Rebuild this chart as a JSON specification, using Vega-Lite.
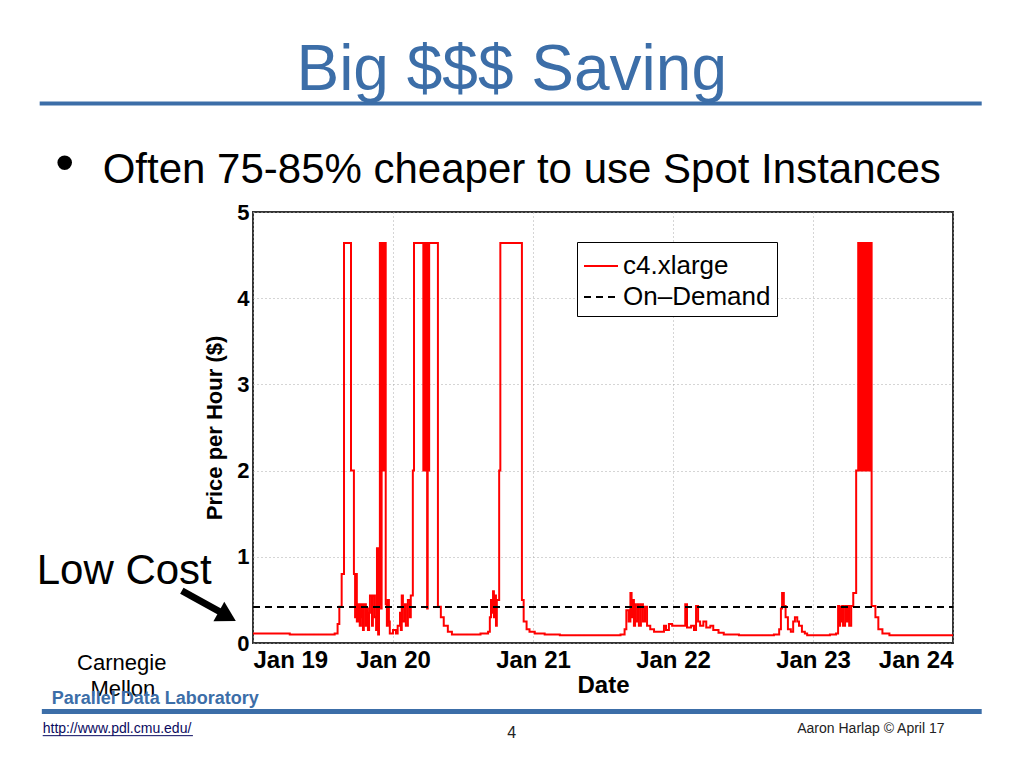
{
  "$schema": "https://vega.github.io/schema/vega-lite/v6.json",
  "width": 700,
  "height": 431,
  "autosize": {"type": "none"},
  "padding": {"left": 253, "top": 212, "right": 71, "bottom": 125},
  "background": "white",
  "config": {
    "font": "Liberation Sans",
    "view": {"stroke": "#333333", "strokeWidth": 2},
    "axis": {"gridDash": [1, 3], "gridColor": "#aaaaaa", "gridWidth": 1, "ticks": false, "domain": false, "labelColor": "black", "titleColor": "black", "labelFont": "Liberation Sans", "titleFont": "Liberation Sans"}
  },
  "datasets": {
    "price": [
      {"hour": 0, "price": 0.11, "series": "c4.xlarge"},
      {"hour": 3, "price": 0.11, "series": "c4.xlarge"},
      {"hour": 6.3, "price": 0.1, "series": "c4.xlarge"},
      {"hour": 11.5, "price": 0.1, "series": "c4.xlarge"},
      {"hour": 14.0, "price": 0.11, "series": "c4.xlarge"},
      {"hour": 14.5, "price": 0.22, "series": "c4.xlarge"},
      {"hour": 14.8, "price": 0.42, "series": "c4.xlarge"},
      {"hour": 15.2, "price": 0.8, "series": "c4.xlarge"},
      {"hour": 15.6, "price": 4.64, "series": "c4.xlarge"},
      {"hour": 16.8, "price": 2.0, "series": "c4.xlarge"},
      {"hour": 17.3, "price": 0.8, "series": "c4.xlarge"},
      {"hour": 17.5, "price": 0.3, "series": "c4.xlarge"},
      {"hour": 17.65, "price": 0.8, "series": "c4.xlarge"},
      {"hour": 17.8, "price": 0.25, "series": "c4.xlarge"},
      {"hour": 18.0, "price": 0.45, "series": "c4.xlarge"},
      {"hour": 18.3, "price": 0.2, "series": "c4.xlarge"},
      {"hour": 18.5, "price": 0.45, "series": "c4.xlarge"},
      {"hour": 18.7, "price": 0.3, "series": "c4.xlarge"},
      {"hour": 18.85, "price": 0.15, "series": "c4.xlarge"},
      {"hour": 19.0, "price": 0.45, "series": "c4.xlarge"},
      {"hour": 19.35, "price": 0.2, "series": "c4.xlarge"},
      {"hour": 19.55, "price": 0.4, "series": "c4.xlarge"},
      {"hour": 19.7, "price": 0.15, "series": "c4.xlarge"},
      {"hour": 19.9, "price": 0.35, "series": "c4.xlarge"},
      {"hour": 20.05, "price": 0.55, "series": "c4.xlarge"},
      {"hour": 20.4, "price": 0.2, "series": "c4.xlarge"},
      {"hour": 20.55, "price": 0.55, "series": "c4.xlarge"},
      {"hour": 20.9, "price": 0.3, "series": "c4.xlarge"},
      {"hour": 21.1, "price": 0.15, "series": "c4.xlarge"},
      {"hour": 21.25, "price": 1.1, "series": "c4.xlarge"},
      {"hour": 21.45, "price": 0.1, "series": "c4.xlarge"},
      {"hour": 21.6, "price": 0.45, "series": "c4.xlarge"},
      {"hour": 21.75, "price": 4.64, "series": "c4.xlarge"},
      {"hour": 21.95, "price": 0.4, "series": "c4.xlarge"},
      {"hour": 22.05, "price": 4.64, "series": "c4.xlarge"},
      {"hour": 22.2, "price": 2.0, "series": "c4.xlarge"},
      {"hour": 22.3, "price": 4.64, "series": "c4.xlarge"},
      {"hour": 22.45, "price": 2.0, "series": "c4.xlarge"},
      {"hour": 22.55, "price": 4.64, "series": "c4.xlarge"},
      {"hour": 22.75, "price": 0.45, "series": "c4.xlarge"},
      {"hour": 22.95, "price": 0.2, "series": "c4.xlarge"},
      {"hour": 23.1, "price": 0.5, "series": "c4.xlarge"},
      {"hour": 23.3, "price": 0.25, "series": "c4.xlarge"},
      {"hour": 23.45, "price": 0.11, "series": "c4.xlarge"},
      {"hour": 24.0, "price": 0.15, "series": "c4.xlarge"},
      {"hour": 24.5, "price": 0.11, "series": "c4.xlarge"},
      {"hour": 24.8, "price": 0.2, "series": "c4.xlarge"},
      {"hour": 25.2, "price": 0.35, "series": "c4.xlarge"},
      {"hour": 25.35, "price": 0.15, "series": "c4.xlarge"},
      {"hour": 25.5, "price": 0.55, "series": "c4.xlarge"},
      {"hour": 25.7, "price": 0.25, "series": "c4.xlarge"},
      {"hour": 26.05, "price": 0.45, "series": "c4.xlarge"},
      {"hour": 26.2, "price": 0.2, "series": "c4.xlarge"},
      {"hour": 26.55, "price": 0.5, "series": "c4.xlarge"},
      {"hour": 26.9, "price": 0.3, "series": "c4.xlarge"},
      {"hour": 27.05, "price": 0.55, "series": "c4.xlarge"},
      {"hour": 27.4, "price": 2.0, "series": "c4.xlarge"},
      {"hour": 27.6, "price": 4.64, "series": "c4.xlarge"},
      {"hour": 29.2, "price": 2.0, "series": "c4.xlarge"},
      {"hour": 29.3, "price": 4.64, "series": "c4.xlarge"},
      {"hour": 29.45, "price": 2.0, "series": "c4.xlarge"},
      {"hour": 29.55, "price": 4.64, "series": "c4.xlarge"},
      {"hour": 29.7, "price": 2.0, "series": "c4.xlarge"},
      {"hour": 29.85, "price": 0.4, "series": "c4.xlarge"},
      {"hour": 29.95, "price": 4.64, "series": "c4.xlarge"},
      {"hour": 30.1, "price": 2.0, "series": "c4.xlarge"},
      {"hour": 30.2, "price": 4.64, "series": "c4.xlarge"},
      {"hour": 31.7, "price": 0.42, "series": "c4.xlarge"},
      {"hour": 32.2, "price": 0.3, "series": "c4.xlarge"},
      {"hour": 32.7, "price": 0.2, "series": "c4.xlarge"},
      {"hour": 33.4, "price": 0.13, "series": "c4.xlarge"},
      {"hour": 34.1, "price": 0.1, "series": "c4.xlarge"},
      {"hour": 37.2, "price": 0.1, "series": "c4.xlarge"},
      {"hour": 39.0, "price": 0.11, "series": "c4.xlarge"},
      {"hour": 40.3, "price": 0.13, "series": "c4.xlarge"},
      {"hour": 40.6, "price": 0.3, "series": "c4.xlarge"},
      {"hour": 40.8, "price": 0.5, "series": "c4.xlarge"},
      {"hour": 40.95, "price": 0.35, "series": "c4.xlarge"},
      {"hour": 41.15, "price": 0.6, "series": "c4.xlarge"},
      {"hour": 41.3, "price": 0.3, "series": "c4.xlarge"},
      {"hour": 41.5, "price": 0.55, "series": "c4.xlarge"},
      {"hour": 41.65, "price": 0.2, "series": "c4.xlarge"},
      {"hour": 41.8, "price": 0.5, "series": "c4.xlarge"},
      {"hour": 42.2, "price": 2.0, "series": "c4.xlarge"},
      {"hour": 42.4, "price": 4.64, "series": "c4.xlarge"},
      {"hour": 46.1, "price": 0.5, "series": "c4.xlarge"},
      {"hour": 46.4, "price": 0.25, "series": "c4.xlarge"},
      {"hour": 46.9, "price": 0.16, "series": "c4.xlarge"},
      {"hour": 47.4, "price": 0.13, "series": "c4.xlarge"},
      {"hour": 48.3, "price": 0.11, "series": "c4.xlarge"},
      {"hour": 50.0, "price": 0.1, "series": "c4.xlarge"},
      {"hour": 52.6, "price": 0.09, "series": "c4.xlarge"},
      {"hour": 56.0, "price": 0.09, "series": "c4.xlarge"},
      {"hour": 59.5, "price": 0.09, "series": "c4.xlarge"},
      {"hour": 63.0, "price": 0.1, "series": "c4.xlarge"},
      {"hour": 63.7, "price": 0.16, "series": "c4.xlarge"},
      {"hour": 64.0, "price": 0.38, "series": "c4.xlarge"},
      {"hour": 64.4, "price": 0.25, "series": "c4.xlarge"},
      {"hour": 64.7, "price": 0.58, "series": "c4.xlarge"},
      {"hour": 64.9, "price": 0.3, "series": "c4.xlarge"},
      {"hour": 65.1, "price": 0.5, "series": "c4.xlarge"},
      {"hour": 65.3, "price": 0.2, "series": "c4.xlarge"},
      {"hour": 65.5, "price": 0.45, "series": "c4.xlarge"},
      {"hour": 65.65, "price": 0.25, "series": "c4.xlarge"},
      {"hour": 66.0, "price": 0.45, "series": "c4.xlarge"},
      {"hour": 66.15, "price": 0.2, "series": "c4.xlarge"},
      {"hour": 66.5, "price": 0.45, "series": "c4.xlarge"},
      {"hour": 66.85, "price": 0.25, "series": "c4.xlarge"},
      {"hour": 67.2, "price": 0.42, "series": "c4.xlarge"},
      {"hour": 67.55, "price": 0.2, "series": "c4.xlarge"},
      {"hour": 68.1, "price": 0.16, "series": "c4.xlarge"},
      {"hour": 68.75, "price": 0.13, "series": "c4.xlarge"},
      {"hour": 69.8, "price": 0.13, "series": "c4.xlarge"},
      {"hour": 70.45, "price": 0.2, "series": "c4.xlarge"},
      {"hour": 70.8, "price": 0.15, "series": "c4.xlarge"},
      {"hour": 71.3, "price": 0.22, "series": "c4.xlarge"},
      {"hour": 71.85, "price": 0.2, "series": "c4.xlarge"},
      {"hour": 74.0, "price": 0.2, "series": "c4.xlarge"},
      {"hour": 74.1, "price": 0.45, "series": "c4.xlarge"},
      {"hour": 74.4, "price": 0.18, "series": "c4.xlarge"},
      {"hour": 75.1, "price": 0.2, "series": "c4.xlarge"},
      {"hour": 75.6, "price": 0.15, "series": "c4.xlarge"},
      {"hour": 75.95, "price": 0.43, "series": "c4.xlarge"},
      {"hour": 76.3, "price": 0.25, "series": "c4.xlarge"},
      {"hour": 76.65, "price": 0.2, "series": "c4.xlarge"},
      {"hour": 77.2, "price": 0.25, "series": "c4.xlarge"},
      {"hour": 77.7, "price": 0.18, "series": "c4.xlarge"},
      {"hour": 78.4, "price": 0.2, "series": "c4.xlarge"},
      {"hour": 78.9, "price": 0.15, "series": "c4.xlarge"},
      {"hour": 79.8, "price": 0.12, "series": "c4.xlarge"},
      {"hour": 80.7, "price": 0.1, "series": "c4.xlarge"},
      {"hour": 83.3, "price": 0.09, "series": "c4.xlarge"},
      {"hour": 86.7, "price": 0.09, "series": "c4.xlarge"},
      {"hour": 89.3, "price": 0.1, "series": "c4.xlarge"},
      {"hour": 90.2, "price": 0.16, "series": "c4.xlarge"},
      {"hour": 90.5, "price": 0.4, "series": "c4.xlarge"},
      {"hour": 90.7, "price": 0.58, "series": "c4.xlarge"},
      {"hour": 91.0, "price": 0.43, "series": "c4.xlarge"},
      {"hour": 91.3, "price": 0.3, "series": "c4.xlarge"},
      {"hour": 91.7, "price": 0.16, "series": "c4.xlarge"},
      {"hour": 92.2, "price": 0.13, "series": "c4.xlarge"},
      {"hour": 92.6, "price": 0.25, "series": "c4.xlarge"},
      {"hour": 92.9, "price": 0.3, "series": "c4.xlarge"},
      {"hour": 93.3, "price": 0.25, "series": "c4.xlarge"},
      {"hour": 93.6, "price": 0.2, "series": "c4.xlarge"},
      {"hour": 94.1, "price": 0.13, "series": "c4.xlarge"},
      {"hour": 94.6, "price": 0.11, "series": "c4.xlarge"},
      {"hour": 95.0, "price": 0.09, "series": "c4.xlarge"},
      {"hour": 98.9, "price": 0.1, "series": "c4.xlarge"},
      {"hour": 99.95, "price": 0.11, "series": "c4.xlarge"},
      {"hour": 100.3, "price": 0.43, "series": "c4.xlarge"},
      {"hour": 100.5, "price": 0.2, "series": "c4.xlarge"},
      {"hour": 100.65, "price": 0.42, "series": "c4.xlarge"},
      {"hour": 100.8, "price": 0.25, "series": "c4.xlarge"},
      {"hour": 101.0, "price": 0.43, "series": "c4.xlarge"},
      {"hour": 101.15, "price": 0.2, "series": "c4.xlarge"},
      {"hour": 101.5, "price": 0.43, "series": "c4.xlarge"},
      {"hour": 101.7, "price": 0.25, "series": "c4.xlarge"},
      {"hour": 102.0, "price": 0.43, "series": "c4.xlarge"},
      {"hour": 102.2, "price": 0.2, "series": "c4.xlarge"},
      {"hour": 102.55, "price": 0.43, "series": "c4.xlarge"},
      {"hour": 102.9, "price": 0.58, "series": "c4.xlarge"},
      {"hour": 103.4, "price": 2.0, "series": "c4.xlarge"},
      {"hour": 103.75, "price": 4.64, "series": "c4.xlarge"},
      {"hour": 103.9, "price": 2.0, "series": "c4.xlarge"},
      {"hour": 104.0, "price": 4.64, "series": "c4.xlarge"},
      {"hour": 104.15, "price": 2.0, "series": "c4.xlarge"},
      {"hour": 104.3, "price": 4.64, "series": "c4.xlarge"},
      {"hour": 104.6, "price": 2.0, "series": "c4.xlarge"},
      {"hour": 104.9, "price": 4.64, "series": "c4.xlarge"},
      {"hour": 105.05, "price": 2.0, "series": "c4.xlarge"},
      {"hour": 105.15, "price": 4.64, "series": "c4.xlarge"},
      {"hour": 105.3, "price": 2.0, "series": "c4.xlarge"},
      {"hour": 105.4, "price": 4.64, "series": "c4.xlarge"},
      {"hour": 105.55, "price": 2.0, "series": "c4.xlarge"},
      {"hour": 105.65, "price": 4.64, "series": "c4.xlarge"},
      {"hour": 105.8, "price": 2.0, "series": "c4.xlarge"},
      {"hour": 105.9, "price": 4.64, "series": "c4.xlarge"},
      {"hour": 106.05, "price": 0.43, "series": "c4.xlarge"},
      {"hour": 106.7, "price": 0.3, "series": "c4.xlarge"},
      {"hour": 107.2, "price": 0.16, "series": "c4.xlarge"},
      {"hour": 107.9, "price": 0.11, "series": "c4.xlarge"},
      {"hour": 109.1, "price": 0.09, "series": "c4.xlarge"},
      {"hour": 120, "price": 0.09, "series": "c4.xlarge"},
      {"hour": 0, "price": 0.419, "series": "On–Demand"},
      {"hour": 120, "price": 0.419, "series": "On–Demand"}
    ],
    "texts": [
      {"id": "title", "hour": 44.35, "price": 6.41, "label": "Big $$$ Saving"},
      {"id": "bullet", "hour": -33.9, "price": 5.36, "label": "•"},
      {"id": "point", "hour": -25.77, "price": 5.34, "label": "Often 75-85% cheaper to use Spot Instances"},
      {"id": "low", "hour": -37.08, "price": 0.69, "label": "Low Cost"},
      {"id": "cmu1", "hour": -22.5, "price": -0.31, "label": "Carnegie"},
      {"id": "cmu2", "hour": -22.3, "price": -0.62, "label": "Mellon"},
      {"id": "pdl", "hour": -34.5, "price": -0.705, "label": "Parallel Data Laboratory"},
      {"id": "url", "hour": -36.05, "price": -1.04, "label": "http://www.pdl.cmu.edu/"},
      {"id": "page", "hour": 44.35, "price": -1.1, "label": "4"},
      {"id": "author", "hour": 93.3, "price": -1.04, "label": "Aaron Harlap © April 17"}
    ],
    "lines": [
      {"id": "top", "hour": -36.57, "hour2": 124.92, "price": 6.26, "price2": 6.26, "w": 4},
      {"id": "bottom", "hour": -36.2, "hour2": 124.92, "price": -0.796, "price2": -0.796, "w": 5}
    ]
  },
  "layer": [
    {
      "data": {"name": "price"},
      "transform": [{"filter": "datum.series === 'c4.xlarge'"}],
      "mark": {"type": "line", "interpolate": "step-after", "strokeWidth": 2},
      "encoding": {
        "x": {"field": "hour", "type": "quantitative", "scale": {"domain": [0, 120], "nice": false, "zero": false},
          "axis": {"values": [0, 24, 48, 72, 96, 120], "labelExpr": "'Jan ' + (19 + round(datum.value / 24))", "labelFontSize": 24, "labelFontWeight": "bold", "labelPadding": 5, "title": "Date", "titleFontSize": 24, "titleFontWeight": "bold", "titlePadding": 1, "grid": true}},
        "y": {"field": "price", "type": "quantitative", "scale": {"domain": [0, 5], "nice": false, "zero": false},
          "axis": {"values": [0, 1, 2, 3, 4, 5], "format": "d", "labelFontSize": 22, "labelFontWeight": "bold", "labelPadding": 4, "title": "Price per Hour ($)", "titleFontSize": 22, "titleFontWeight": "bold", "titlePadding": 10, "grid": true}},
        "color": {"field": "series", "type": "nominal", "scale": {"domain": ["c4.xlarge", "On–Demand"], "range": ["#ff0000", "#000000"]},
          "legend": {"title": null, "orient": "none", "legendX": 324, "legendY": 30, "symbolType": "stroke", "symbolSize": 1156, "symbolStrokeWidth": 2, "labelFontSize": 26, "labelFont": "Liberation Sans", "labelColor": "black", "labelOffset": 4, "padding": 6, "rowPadding": 0, "strokeColor": "black", "fillColor": "white", "cornerRadius": 0}},
        "strokeDash": {"field": "series", "type": "nominal", "scale": {"domain": ["c4.xlarge", "On–Demand"], "range": [[1, 0], [7, 5]]}, "legend": null}
      }
    },
    {
      "data": {"name": "price"},
      "transform": [{"filter": "datum.series === 'On–Demand'"}],
      "mark": {"type": "line", "strokeWidth": 2},
      "encoding": {
        "x": {"field": "hour", "type": "quantitative"},
        "y": {"field": "price", "type": "quantitative"},
        "color": {"field": "series", "type": "nominal"},
        "strokeDash": {"field": "series", "type": "nominal"}
      }
    },
    {
      "data": {"name": "lines"},
      "mark": {"type": "rule", "color": "#3c6ea8", "clip": false},
      "encoding": {
        "x": {"field": "hour", "type": "quantitative"},
        "x2": {"field": "hour2"},
        "y": {"field": "price", "type": "quantitative"},
        "y2": {"field": "price2"},
        "strokeWidth": {"field": "w", "type": "quantitative", "scale": null}
      }
    },
    {
      "data": {"name": "texts"},
      "transform": [{"filter": "datum.id === 'title'"}],
      "mark": {"type": "text", "fontSize": 64, "color": "#3c6ea8", "align": "center", "baseline": "alphabetic", "font": "Liberation Sans"},
      "encoding": {"x": {"field": "hour", "type": "quantitative"}, "y": {"field": "price", "type": "quantitative"}, "text": {"field": "label"}}
    },
    {
      "data": {"name": "texts"},
      "transform": [{"filter": "datum.id === 'bullet'"}],
      "mark": {"type": "text", "fontSize": 54, "color": "black", "align": "left", "baseline": "alphabetic", "font": "Liberation Sans"},
      "encoding": {"x": {"field": "hour", "type": "quantitative"}, "y": {"field": "price", "type": "quantitative"}, "text": {"field": "label"}}
    },
    {
      "data": {"name": "texts"},
      "transform": [{"filter": "datum.id === 'point' || datum.id === 'low'"}],
      "mark": {"type": "text", "fontSize": 42, "color": "black", "align": "left", "baseline": "alphabetic", "font": "Liberation Sans"},
      "encoding": {"x": {"field": "hour", "type": "quantitative"}, "y": {"field": "price", "type": "quantitative"}, "text": {"field": "label"}}
    },
    {
      "data": {"name": "texts"},
      "transform": [{"filter": "datum.id === 'cmu1' || datum.id === 'cmu2'"}],
      "mark": {"type": "text", "fontSize": 22, "color": "black", "align": "center", "baseline": "alphabetic", "font": "Liberation Sans"},
      "encoding": {"x": {"field": "hour", "type": "quantitative"}, "y": {"field": "price", "type": "quantitative"}, "text": {"field": "label"}}
    },
    {
      "data": {"name": "texts"},
      "transform": [{"filter": "datum.id === 'pdl'"}],
      "mark": {"type": "text", "fontSize": 18, "fontWeight": "bold", "color": "#3c6ea8", "align": "left", "baseline": "alphabetic", "font": "Liberation Sans"},
      "encoding": {"x": {"field": "hour", "type": "quantitative"}, "y": {"field": "price", "type": "quantitative"}, "text": {"field": "label"}}
    },
    {
      "data": {"name": "texts"},
      "transform": [{"filter": "datum.id === 'url'"}],
      "mark": {"type": "text", "fontSize": 14, "color": "#0a0a60", "align": "left", "baseline": "alphabetic", "font": "Liberation Sans"},
      "encoding": {"x": {"field": "hour", "type": "quantitative"}, "y": {"field": "price", "type": "quantitative"}, "text": {"field": "label"}}
    },
    {
      "data": {"name": "texts"},
      "transform": [{"filter": "datum.id === 'page'"}],
      "mark": {"type": "text", "fontSize": 16, "color": "#222222", "align": "center", "baseline": "alphabetic", "font": "Liberation Sans"},
      "encoding": {"x": {"field": "hour", "type": "quantitative"}, "y": {"field": "price", "type": "quantitative"}, "text": {"field": "label"}}
    },
    {
      "data": {"name": "texts"},
      "transform": [{"filter": "datum.id === 'author'"}],
      "mark": {"type": "text", "fontSize": 14, "color": "#222222", "align": "left", "baseline": "alphabetic", "font": "Liberation Sans"},
      "encoding": {"x": {"field": "hour", "type": "quantitative"}, "y": {"field": "price", "type": "quantitative"}, "text": {"field": "label"}}
    },
    {
      "data": {"values": [{"hour": -36.05, "hour2": -10.3, "price": -1.075}]},
      "mark": {"type": "rule", "color": "#0a0a60", "strokeWidth": 1, "clip": false},
      "encoding": {"x": {"field": "hour", "type": "quantitative"}, "x2": {"field": "hour2"}, "y": {"field": "price", "type": "quantitative"}}
    },
    {
      "data": {"values": [{"hour": -12.2, "hour2": -5.6, "price": 0.606, "price2": 0.36}]},
      "mark": {"type": "rule", "color": "black", "strokeWidth": 7, "clip": false},
      "encoding": {"x": {"field": "hour", "type": "quantitative"}, "x2": {"field": "hour2"}, "y": {"field": "price", "type": "quantitative"}, "y2": {"field": "price2"}}
    },
    {
      "data": {"values": [{"hour": -4.4, "price": 0.31}]},
      "mark": {"type": "point", "shape": "triangle-right", "filled": true, "color": "black", "size": 500, "angle": 29, "opacity": 1, "clip": false},
      "encoding": {"x": {"field": "hour", "type": "quantitative"}, "y": {"field": "price", "type": "quantitative"}}
    }
  ]
}
